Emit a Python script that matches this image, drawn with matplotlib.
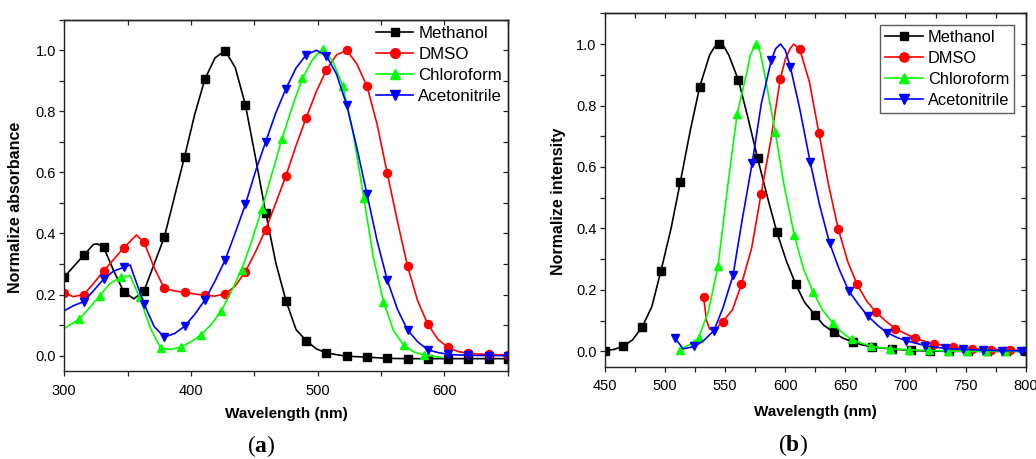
import numpy as np
import matplotlib
matplotlib.use('Agg')
from matplotlib import pyplot as plt
from matplotlib.lines import Line2D
from matplotlib.ticker import MultipleLocator, FormatStrFormatter

plt.rcParams['font.family'] = 'Liberation Sans'
plt.rcParams['mathtext.fontset'] = 'custom'
plt.rcParams['mathtext.rm'] = 'Liberation Serif'
plt.rcParams['mathtext.bf'] = 'Liberation Serif:bold'

solvents = ['Methanol', 'DMSO', 'Chloroform', 'Acetonitrile']
colors = ['#000000', '#ff0000', '#00ff00', '#0000ff']
markers = ['s', 'o', '^', 'v']
msizes = [5.3, 5.8, 6.2, 6.2]

# ---- (a) absorption: marker points + extra points along the curve ----
abs_meoh_wl = [300, 315.5, 331, 347, 363, 379, 395, 411, 427, 443, 459, 475, 491, 507,
               523, 539, 555, 571, 587, 603, 619, 635, 650]
abs_meoh = [0.257, 0.329, 0.356, 0.209, 0.212, 0.388, 0.652, 0.905, 0.999, 0.821, 0.468,
            0.180, 0.049, 0.009, -0.002, -0.005, -0.009, -0.010, -0.010, -0.010, -0.010,
            -0.010, -0.010]
abs_meoh_wl_c = [307, 323, 326, 339, 355, 371, 387, 403, 419, 435, 451, 467, 483, 499, 515]
abs_meoh_c = [0.290, 0.364, 0.366, 0.278, 0.186, 0.300, 0.520, 0.790, 0.975, 0.943, 0.648,
              0.304, 0.085, 0.022, 0.003]

abs_dmso_wl = [300, 315.5, 331, 347, 363, 379, 395, 411, 427, 443, 459, 475, 491, 507,
               523, 539, 555, 571, 587, 603, 619, 635, 650]
abs_dmso = [0.206, 0.200, 0.276, 0.353, 0.371, 0.220, 0.207, 0.197, 0.202, 0.275, 0.413,
            0.589, 0.779, 0.936, 1.000, 0.882, 0.597, 0.293, 0.103, 0.027, 0.008, 0.004, 0.003]
abs_dmso_wl_c = [307, 323, 339, 357, 371, 387, 403, 419, 435, 451, 467, 483, 499, 515,
                 531, 547, 563, 579, 595, 611, 627, 643]
abs_dmso_c = [0.193, 0.236, 0.315, 0.395, 0.288, 0.212, 0.202, 0.195, 0.228, 0.340, 0.500,
              0.688, 0.865, 0.985, 0.955, 0.757, 0.440, 0.179, 0.053, 0.013, 0.005, 0.003]

abs_chcl3_wl = [312, 328, 344.5, 359.5, 376, 392, 408, 424, 440, 456, 472, 488, 504, 520,
                536.5, 552, 568, 584]
abs_chcl3 = [0.120, 0.196, 0.256, 0.191, 0.025, 0.028, 0.068, 0.147, 0.282, 0.481, 0.711,
             0.908, 1.005, 0.883, 0.516, 0.177, 0.034, 0.002]
abs_chcl3_wl_c = [300, 320, 336, 352, 368, 384, 400, 416, 432, 448, 464, 480, 496, 512,
                  528, 544, 560, 576, 598]
abs_chcl3_c = [0.089, 0.157, 0.236, 0.262, 0.090, 0.020, 0.045, 0.102, 0.210, 0.375, 0.597,
               0.815, 0.970, 0.964, 0.730, 0.321, 0.081, 0.012, -0.006]

abs_mecn_wl = [315.5, 331, 347, 363, 379, 395, 411, 427, 443, 459, 475, 491, 507, 523,
               539, 555, 571, 587, 603, 619, 635, 650]
abs_mecn = [0.177, 0.250, 0.289, 0.169, 0.061, 0.096, 0.182, 0.313, 0.495, 0.700, 0.874,
            0.985, 0.982, 0.820, 0.528, 0.247, 0.084, 0.019, 0.004, 0.001, 0.000, 0.000]
abs_mecn_wl_c = [300, 307, 323, 339, 352, 371, 387, 403, 419, 435, 451, 467, 483, 499,
                 515, 531, 547, 563, 579, 595, 611]
abs_mecn_c = [0.147, 0.163, 0.212, 0.277, 0.297, 0.095, 0.072, 0.135, 0.244, 0.402, 0.604,
              0.795, 0.942, 1.000, 0.921, 0.680, 0.375, 0.152, 0.045, 0.010, 0.002]

# ---- (b) emission ----
em_meoh_wl = [450, 465, 481, 496.6, 512.7, 528.8, 545, 561, 577, 593, 608.6, 624.6, 640.4,
              656.5, 672.3, 688.4, 704.5, 720.3, 736, 752, 768, 784, 800]
em_meoh = [0.002, 0.016, 0.080, 0.263, 0.552, 0.861, 1.000, 0.883, 0.628, 0.388, 0.219,
           0.119, 0.062, 0.030, 0.015, 0.008, 0.003, 0.001, 0.000, 0.000, 0.000, 0.000, 0.000]
em_meoh_wl_c = [457, 473, 489, 505, 521, 537, 541, 549, 553, 569, 585, 601, 616, 632, 648,
                664, 680]
em_meoh_c = [0.006, 0.038, 0.146, 0.401, 0.720, 0.964, 0.990, 0.992, 0.964, 0.759, 0.504,
             0.293, 0.160, 0.085, 0.043, 0.021, 0.011]

em_dmso_wl = [532, 548, 563.5, 579.8, 595.8, 612, 628, 644, 659.6, 675.5, 691.7, 707.8,
              723.8, 739.8, 755.6, 771.5, 787.3]
em_dmso = [0.177, 0.097, 0.218, 0.511, 0.886, 0.983, 0.710, 0.399, 0.219, 0.128, 0.074,
           0.044, 0.025, 0.015, 0.009, 0.006, 0.004]
em_dmso_wl_c = [534.5, 537, 541, 556, 572, 588, 600, 604, 607, 620, 636, 652, 668, 684, 700,
                716, 732, 748, 764, 780, 800]
em_dmso_c = [0.100, 0.073, 0.068, 0.135, 0.336, 0.688, 0.950, 0.985, 1.000, 0.878, 0.542,
             0.292, 0.162, 0.097, 0.057, 0.033, 0.019, 0.011, 0.007, 0.005, 0.003]

em_chcl3_wl = [512, 528, 544, 560, 575.6, 591.7, 607.5, 623.2, 639.3, 655.1, 671.2, 687.3,
               703.1, 719.2, 735.3, 751.1, 767, 783]
em_chcl3 = [0.005, 0.045, 0.277, 0.774, 1.000, 0.713, 0.379, 0.192, 0.093, 0.039, 0.017,
            0.009, 0.005, 0.003, 0.001, 0.000, 0.000, 0.000]
em_chcl3_wl_c = [520, 536, 552, 568, 571, 579, 583, 599, 615, 631, 647, 663, 679, 800]
em_chcl3_c = [0.021, 0.130, 0.535, 0.908, 0.965, 0.975, 0.898, 0.540, 0.270, 0.135, 0.062,
              0.027, 0.012, 0.000]

em_mecn_wl = [508.6, 524.4, 540.5, 556.5, 572.5, 588.4, 604.3, 620.7, 636.8, 652.8, 668.7,
              684.6, 700.5, 716.5, 732.5, 748.1, 764.2, 780, 796]
em_mecn = [0.042, 0.016, 0.067, 0.247, 0.614, 0.948, 0.924, 0.616, 0.353, 0.197, 0.115,
           0.061, 0.035, 0.019, 0.010, 0.007, 0.004, 0.002, 0.002]
em_mecn_wl_c = [515, 532, 548, 564, 580, 592, 596, 600, 612, 628.5, 645, 661, 677, 693,
                708, 724, 740, 800]
em_mecn_c = [0.008, 0.035, 0.140, 0.425, 0.805, 0.985, 1.000, 0.980, 0.790, 0.477, 0.266,
             0.152, 0.084, 0.045, 0.027, 0.014, 0.008, 0.001]

panel_a = [(abs_meoh_wl, abs_meoh, abs_meoh_wl_c, abs_meoh_c),
           (abs_dmso_wl, abs_dmso, abs_dmso_wl_c, abs_dmso_c),
           (abs_chcl3_wl, abs_chcl3, abs_chcl3_wl_c, abs_chcl3_c),
           (abs_mecn_wl, abs_mecn, abs_mecn_wl_c, abs_mecn_c)]
panel_b = [(em_meoh_wl, em_meoh, em_meoh_wl_c, em_meoh_c),
           (em_dmso_wl, em_dmso, em_dmso_wl_c, em_dmso_c),
           (em_chcl3_wl, em_chcl3, em_chcl3_wl_c, em_chcl3_c),
           (em_mecn_wl, em_mecn, em_mecn_wl_c, em_mecn_c)]

AXCOL = '#222222'


def draw_series(ax, mx, my, cx, cy, color, marker, ms):
    x = np.concatenate([mx, cx])
    y = np.concatenate([my, cy])
    order = np.argsort(x, kind='stable')
    marked = np.r_[np.ones(len(mx), bool), np.zeros(len(cx), bool)][order]
    ax.plot(x[order], y[order], color=color, lw=1.2, marker=marker, ms=ms,
            markevery=list(marked), mec=color, mfc=color, solid_joinstyle='round')


def style_axes(ax, xmaj, xmin):
    ax.set_ylim(-0.05, 1.1)
    ax.xaxis.set_major_locator(MultipleLocator(xmaj))
    ax.xaxis.set_minor_locator(MultipleLocator(xmin))
    ax.yaxis.set_major_locator(MultipleLocator(0.2))
    ax.yaxis.set_minor_locator(MultipleLocator(0.1))
    ax.yaxis.set_major_formatter(FormatStrFormatter('%.1f'))
    ax.tick_params(which='both', direction='out', length=3.6, width=0.9,
                   labelsize=10.5, color=AXCOL)
    ax.tick_params(axis='x', which='both', pad=5.5)
    ax.tick_params(axis='y', which='both', pad=2.5)
    for s in ax.spines.values():
        s.set_linewidth(1.0)
        s.set_color(AXCOL)
    # mirrored ticks on the top and right edges, pointing inwards
    top = ax.secondary_xaxis('top')
    top.xaxis.set_major_locator(MultipleLocator(xmaj))
    top.xaxis.set_minor_locator(MultipleLocator(xmin))
    right = ax.secondary_yaxis('right')
    right.yaxis.set_major_locator(MultipleLocator(0.2))
    right.yaxis.set_minor_locator(MultipleLocator(0.1))
    for sec in (top, right):
        sec.tick_params(which='both', direction='in', length=3.6, width=0.9, color=AXCOL,
                        labeltop=False, labelright=False)
        for s in sec.spines.values():
            s.set_linewidth(1.0)
            s.set_color(AXCOL)


def legend_handles(ms_scale=1.0):
    return [Line2D([], [], color=c, marker=m, ms=s * ms_scale, lw=1.2, mec=c, mfc=c)
            for c, m, s in zip(colors, markers, msizes)]


fig = plt.figure(figsize=(10.36, 4.59), dpi=100)

ax1 = fig.add_axes([0.062, 0.192, 0.428, 0.765])
for (mx, my, cx, cy), c, m, s in zip(panel_a, colors, markers, msizes):
    draw_series(ax1, mx, my, cx, cy, c, m, s)
ax1.set_xlim(300, 650)
style_axes(ax1, 100, 50)
ax1.set_xlabel('Wavelength (nm)', fontsize=11, fontweight='bold')
ax1.set_ylabel('Normalize absorbance', fontsize=11.5, fontweight='bold')
ax1.xaxis.set_label_coords(0.5, -0.103)
ax1.yaxis.set_label_coords(-0.092, 0.467)
ax1.legend(legend_handles(1.2), solvents, loc='upper left', bbox_to_anchor=(0.703, 0.982),
           frameon=False, fontsize=12.2, handlelength=2.2, handletextpad=0.3,
           labelspacing=0.36, borderpad=0, borderaxespad=0)

ax2 = fig.add_axes([0.584, 0.201, 0.406, 0.770])
for (mx, my, cx, cy), c, m, s in zip(panel_b, colors, markers, msizes):
    draw_series(ax2, mx, my, cx, cy, c, m, s)
ax2.set_xlim(450, 800)
style_axes(ax2, 50, 25)
ax2.set_xlabel('Wavelength (nm)', fontsize=11, fontweight='bold')
ax2.set_ylabel('Normalize intensity', fontsize=11.5, fontweight='bold')
ax2.xaxis.set_label_coords(0.5, -0.108)
ax2.yaxis.set_label_coords(-0.092, 0.469)
leg = ax2.legend(legend_handles(1.15), solvents, loc='upper left',
                 bbox_to_anchor=(0.654, 0.968), frameon=True, fancybox=False,
                 fontsize=11.8, handlelength=2.3, handletextpad=0.3, labelspacing=0.38,
                 borderpad=0.3, borderaxespad=0)
leg.get_frame().set_edgecolor('#333333')
leg.get_frame().set_linewidth(1.0)

fig.text(0.252, 0.028, r'$\mathrm{(}\mathbf{a}\mathrm{)}$', fontsize=17, ha='center', va='center')
fig.text(0.765, 0.031, r'$\mathrm{(}\mathbf{b}\mathrm{)}$', fontsize=17, ha='center', va='center')

fig.savefig('out.png', dpi=100)
